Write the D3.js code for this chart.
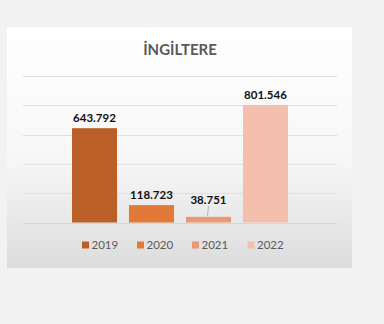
<!DOCTYPE html>
<html>
<head>
<meta charset="utf-8">
<script src="https://cdn.jsdelivr.net/npm/d3@7"></script>
<style>
  html, body { margin: 0; padding: 0; background: #f2f2f2; }
  svg { display: block; }
</style>
</head>
<body>
<svg id="chart" width="384" height="324"></svg>
<script>
// Annual figures for the UK
const years = ["2019", "2020", "2021", "2022"];
const values = [643792, 118723, 38751, 801546];
const labels = ["643.792", "118.723", "38.751", "801.546"];
const colors = ["#ba5f27", "#e07a36", "#ea9876", "#f4bfad"];
const yTicks = [0, 200000, 400000, 600000, 800000, 1000000];
const title = "İNGİLTERE";

const svg = d3.select("#chart");
const font = "Lato, 'Open Sans', sans-serif";

// Chart panel with a soft vertical gradient
const defs = svg.append("defs");
const grad = defs.append("linearGradient")
  .attr("id", "panelGrad").attr("x1", 0).attr("y1", 0).attr("x2", 0).attr("y2", 1);
grad.append("stop").attr("offset", "0%").attr("stop-color", "#ffffff");
grad.append("stop").attr("offset", "55%").attr("stop-color", "#f7f7f7");
grad.append("stop").attr("offset", "100%").attr("stop-color", "#dcdcdc");

const panel = { x: 7, y: 27, w: 345, h: 241 };
svg.append("rect")
  .attr("x", panel.x).attr("y", panel.y)
  .attr("width", panel.w).attr("height", panel.h)
  .attr("fill", "url(#panelGrad)");

// Plot area
const plot = { left: 23, right: 337, top: 76, bottom: 222.5 };

const y = d3.scaleLinear()
  .domain([0, 1000000])
  .range([plot.bottom, plot.top]);

const x = d3.scaleBand()
  .domain(years)
  .range([66, 294])
  .paddingInner(0.21)
  .paddingOuter(0.105);

// Gridlines
svg.append("g")
  .selectAll("line")
  .data(yTicks)
  .join("line")
  .attr("x1", plot.left).attr("x2", plot.right)
  .attr("y1", d => Math.round(y(d)) + 0.5)
  .attr("y2", d => Math.round(y(d)) + 0.5)
  .attr("stroke", d => d === 0 ? "#d6d6d6" : "#e0e0e0")
  .attr("stroke-width", 1);

// Title
svg.append("text")
  .attr("x", 180).attr("y", 55)
  .attr("text-anchor", "middle")
  .attr("font-family", font)
  .attr("font-weight", "bold")
  .attr("font-size", 15)
  .attr("fill", "#595959")
  .text(title);

// Bars
svg.append("g")
  .selectAll("rect")
  .data(years)
  .join("rect")
  .attr("x", d => x(d))
  .attr("width", x.bandwidth())
  .attr("y", (d, i) => y(values[i]))
  .attr("height", (d, i) => y(0) - y(values[i]))
  .attr("fill", (d, i) => colors[i]);

// Value labels (the small 2021 bar carries its label lifted with a leader line)
const labelOffset = [6, 6, 13, 6];
svg.append("g")
  .selectAll("text")
  .data(years)
  .join("text")
  .attr("x", d => x(d) + x.bandwidth() / 2)
  .attr("y", (d, i) => y(values[i]) - labelOffset[i])
  .attr("text-anchor", "middle")
  .attr("font-family", font)
  .attr("font-weight", "bold")
  .attr("font-size", 11.5)
  .attr("fill", "#111")
  .text((d, i) => labels[i]);

const leadX = x("2021") + x.bandwidth() / 2;
svg.append("line")
  .attr("x1", leadX).attr("y1", y(values[2]) - 10.5)
  .attr("x2", leadX - 1).attr("y2", y(values[2]) - 1)
  .attr("stroke", "#a6a6a6").attr("stroke-width", 0.8);

// Legend
const legendX = [82, 137, 192, 247.5];
const legend = svg.append("g")
  .selectAll("g")
  .data(years)
  .join("g")
  .attr("transform", (d, i) => `translate(${legendX[i]},245)`);
legend.append("rect")
  .attr("x", 0).attr("y", -3.5)
  .attr("width", 7).attr("height", 7)
  .attr("fill", (d, i) => colors[i]);
legend.append("text")
  .attr("x", 9.5).attr("y", 4)
  .attr("font-family", font)
  .attr("font-size", 11.5)
  .attr("fill", "#595959")
  .text(d => d);
</script>
</body>
</html>
